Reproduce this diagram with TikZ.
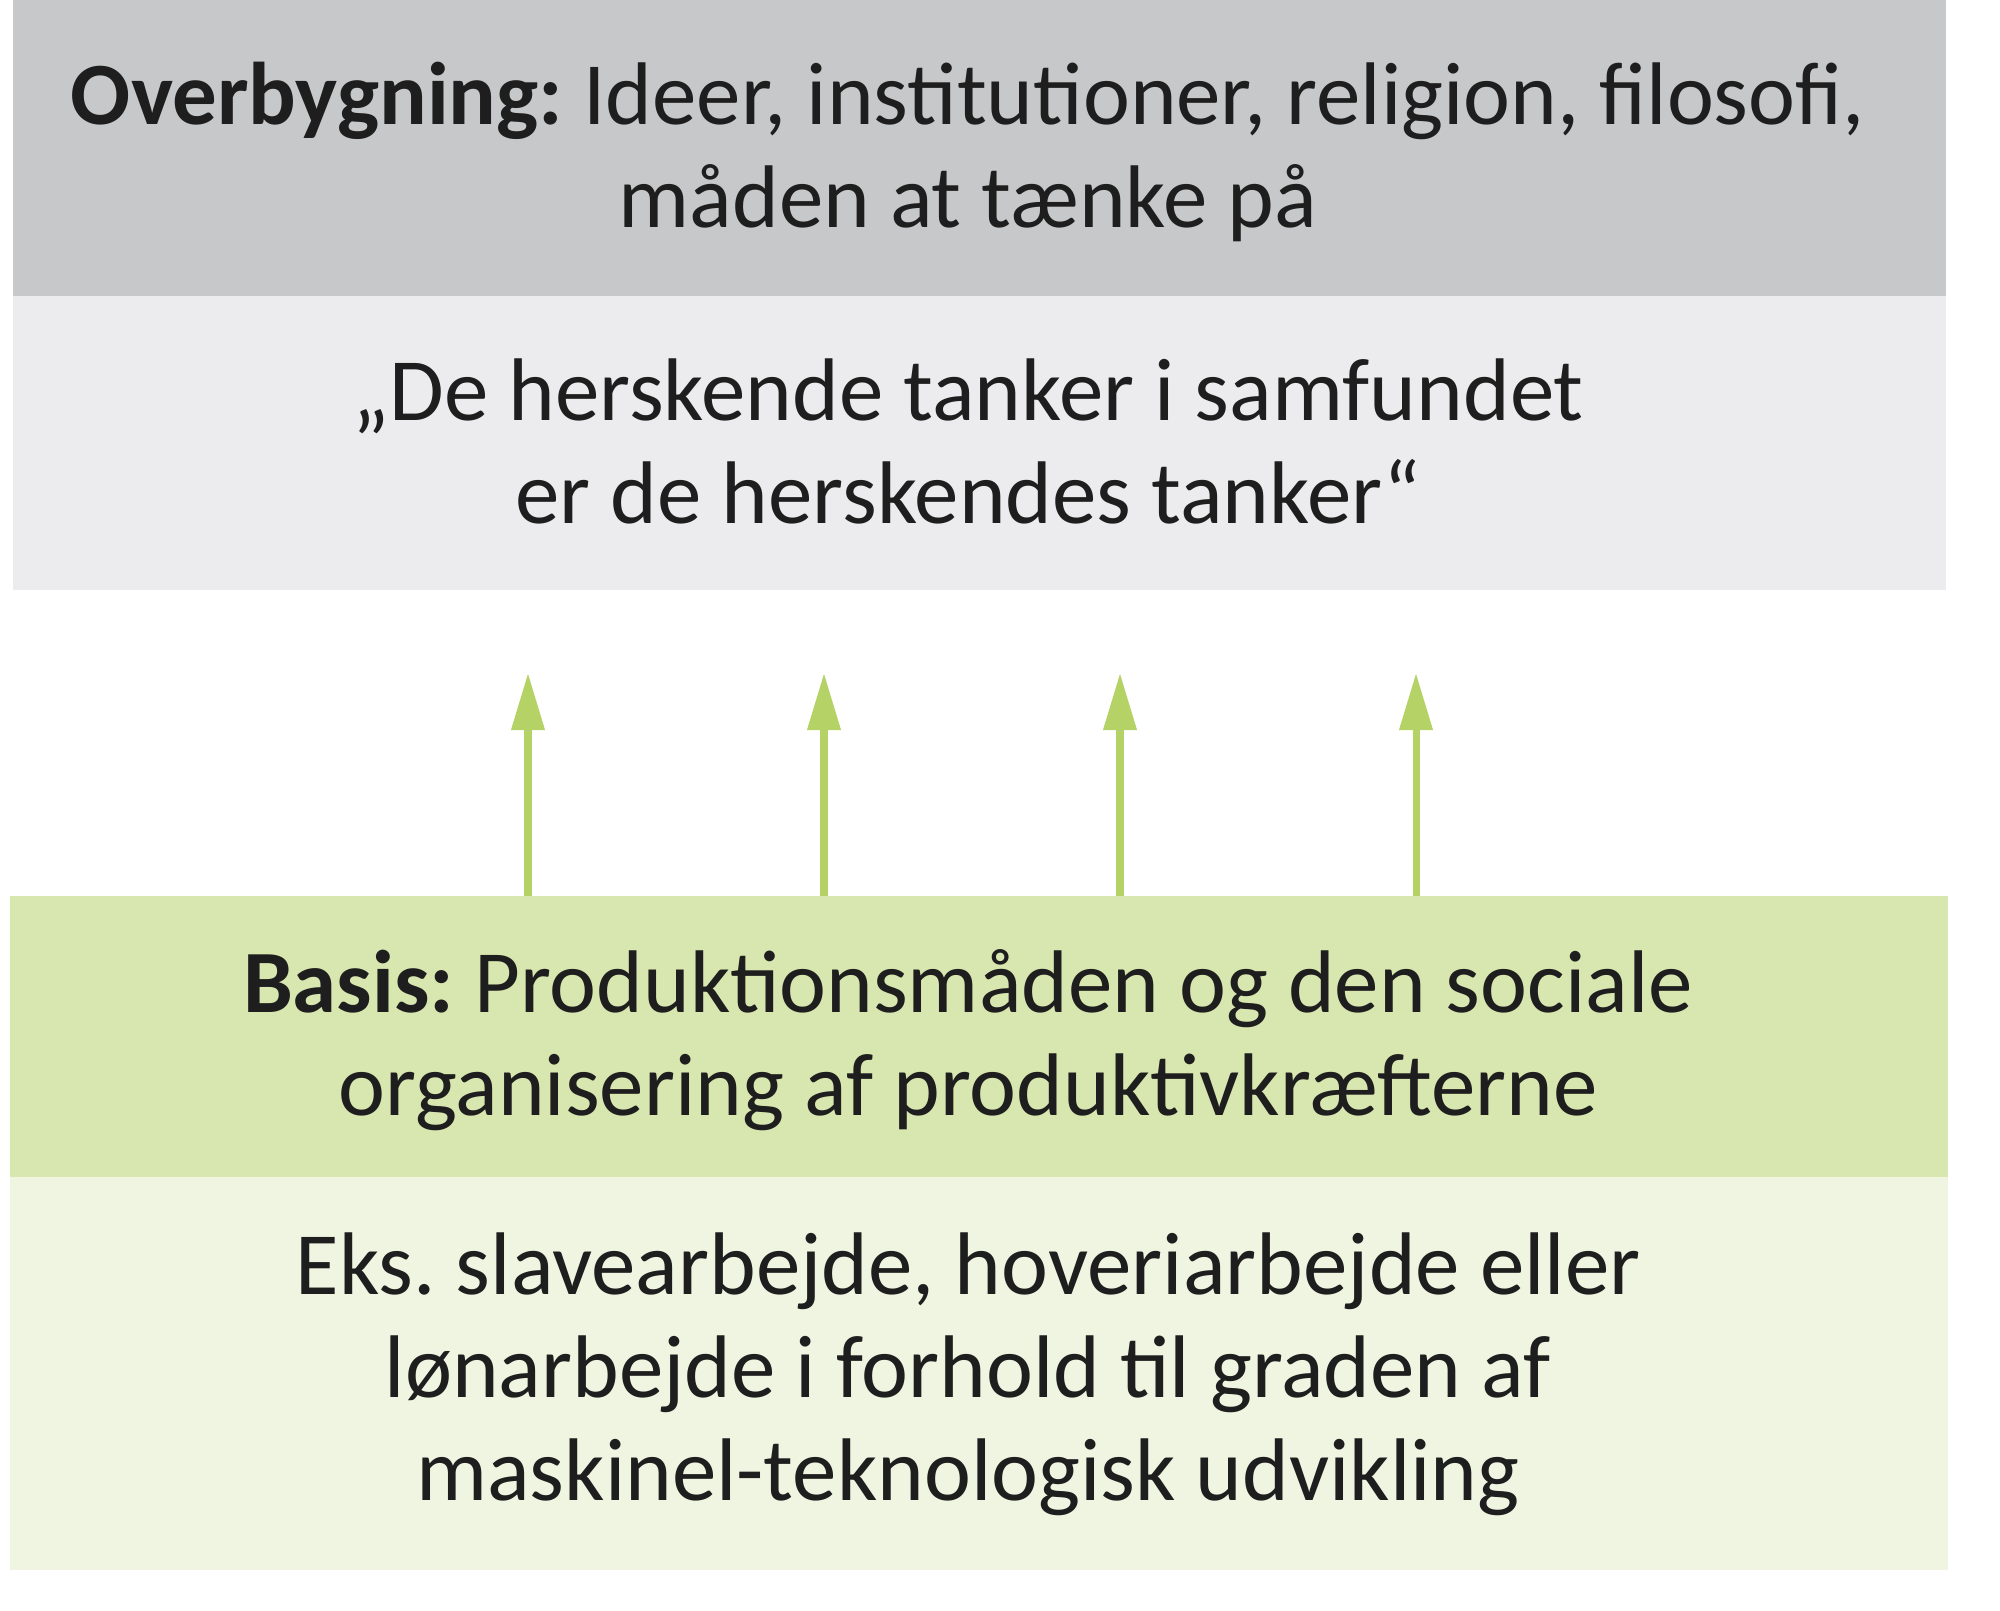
\documentclass[tikz,border=0pt]{standalone}
\usepackage{fontspec}
\setmainfont{Carlito}
\usepackage{xcolor}
\usetikzlibrary{arrows.meta}
\definecolor{topgray}{RGB}{199,200,202}
\definecolor{quotegray}{RGB}{236,236,238}
\definecolor{basisgreen}{RGB}{216,230,176}
\definecolor{exgreen}{RGB}{240,245,226}
\definecolor{arrowgreen}{RGB}{180,210,102}
\definecolor{textgray}{RGB}{30,30,30}
\frenchspacing

\tikzset{
	layerbox/.style={rectangle,inner sep=0pt,outer sep=0pt,anchor=north west},
	layertext/.style={align=center,inner sep=0pt,text=textgray,font=\fontsize{25.3}{29.3}\selectfont},
	uparrow/.style={arrowgreen,line width=2pt,-{Triangle[width=0.32cm,length=0.57cm]}}
}

\begin{document}
\begin{tikzpicture}
	\useasboundingbox (0,0) rectangle (20,-16.11);
	% the four layers
	\node[layerbox,fill=topgray,minimum width=19.33cm,minimum height=2.96cm] (over) at (0.13,0) {};
	\node[layerbox,fill=quotegray,minimum width=19.33cm,minimum height=2.94cm] (quote) at (0.13,-2.96) {};
	\node[layerbox,fill=basisgreen,minimum width=19.38cm,minimum height=2.81cm] (basis) at (0.10,-8.96) {};
	\node[layerbox,fill=exgreen,minimum width=19.38cm,minimum height=3.93cm] (ex) at (0.10,-11.77) {};
	% texts
	\node[layertext] (overtext) at (9.68,-1.52) {\textbf{Overbygning:} Ideer, institutioner, religion, filosofi,\\måden at tænke på};
	\node[layertext] (quotetext) at (9.68,-4.41) {„De herskende tanker i samfundet\\er de herskendes tanker“};
	\node[layertext] (basistext) at (9.68,-10.40) {\textbf{Basis:} Produktionsmåden og den sociale\\organisering af produktivkræfterne};
	\node[layertext] (extext) at (9.68,-13.74) {Eks. slavearbejde, hoveriarbejde eller\\lønarbejde i forhold til graden af\\maskinel-teknologisk udvikling};
	% arrows from the basis up
	\foreach \i/\x in {1/5.28,2/8.24,3/11.20,4/14.16} {
		\coordinate (tip\i) at (\x,-6.73);
		\draw[uparrow] (basis.north -| tip\i) -- (tip\i);
	}
\end{tikzpicture}
\end{document}
